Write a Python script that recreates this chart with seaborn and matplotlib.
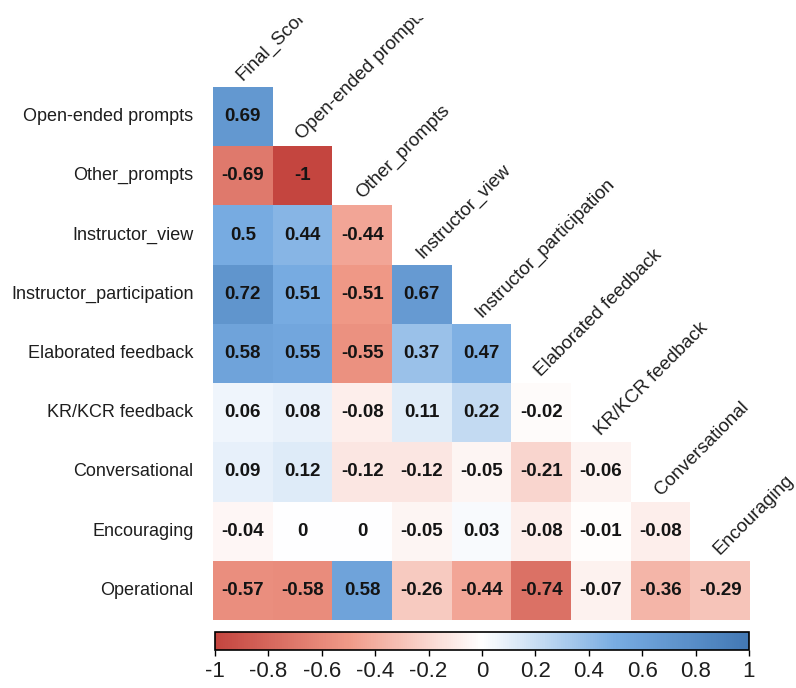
import numpy as np
import pandas as pd
import matplotlib
matplotlib.use("Agg")
import matplotlib.pyplot as plt
import seaborn as sns
from matplotlib.colors import LinearSegmentedColormap
from matplotlib.transforms import Bbox, TransformedBbox

# Variables shown along the rows (lower triangle) and the columns
row_vars = ["Open-ended prompts", "Other_prompts", "Instructor_view",
            "Instructor_participation", "Elaborated feedback", "KR/KCR feedback",
            "Conversational", "Encouraging", "Operational"]
col_vars = ["Final_Score", "Open-ended prompts", "Other_prompts", "Instructor_view",
            "Instructor_participation", "Elaborated feedback", "KR/KCR feedback",
            "Conversational", "Encouraging"]

# Correlation coefficients, one list per row (lower triangle only)
r_open_ended = [0.69]
r_other_prompts = [-0.69, -1]
r_instructor_view = [0.5, 0.44, -0.44]
r_instructor_part = [0.72, 0.51, -0.51, 0.67]
r_elaborated = [0.58, 0.55, -0.55, 0.37, 0.47]
r_kr_kcr = [0.06, 0.08, -0.08, 0.11, 0.22, -0.02]
r_conversational = [0.09, 0.12, -0.12, -0.12, -0.05, -0.21, -0.06]
r_encouraging = [-0.04, 0, 0, -0.05, 0.03, -0.08, -0.01, -0.08]
r_operational = [-0.57, -0.58, 0.58, -0.26, -0.44, -0.74, -0.07, -0.36, -0.29]

cbar_ticks = [-1, -0.8, -0.6, -0.4, -0.2, 0, 0.2, 0.4, 0.6, 0.8, 1]

rows = [r_open_ended, r_other_prompts, r_instructor_view, r_instructor_part,
        r_elaborated, r_kr_kcr, r_conversational, r_encouraging, r_operational]

n = len(row_vars)
mat = np.full((n, len(col_vars)), np.nan)
for i, vals in enumerate(rows):
    mat[i, :len(vals)] = vals
corr = pd.DataFrame(mat, index=row_vars, columns=col_vars)
mask = np.isnan(mat)


def fmt_num(v):
    if np.isnan(v):
        return ""
    s = f"{v:g}"
    return "0" if s in ("-0", "0") else s


annot = np.vectorize(fmt_num)(mat)

cmap = LinearSegmentedColormap.from_list(
    "corr", ["#C4453F", "#F09A88", "#FFFFFF", "#78ACE2", "#4278B4"], N=256)

sns.set_style("white")
plt.rcParams["font.family"] = ["Liberation Sans", "DejaVu Sans"]

fig = plt.figure(figsize=(7.96, 6.88), dpi=100)
ax = fig.add_axes([213 / 796, 1 - 620 / 688, 537 / 796, 533 / 688])
cax = fig.add_axes([215 / 796, 1 - 650 / 688, 534 / 796, 18 / 688])

sns.heatmap(corr, mask=mask, cmap=cmap, vmin=-1, vmax=1,
            annot=annot, fmt="",
            annot_kws={"color": "#141414", "fontsize": 13.5, "fontweight": "bold"},
            cbar_ax=cax, cbar_kws={"orientation": "horizontal", "ticks": cbar_ticks},
            xticklabels=False, yticklabels=row_vars, ax=ax)

ax.tick_params(axis="y", length=0, pad=14, labelsize=13, labelcolor="#1e1e1e")
for lab in ax.get_yticklabels():
    lab.set_rotation(0)
ax.set_xlabel("")
ax.set_ylabel("")

# Diagonal column labels, trimmed at the top margin
clip = TransformedBbox(Bbox([[0, 0], [1, 1 - 18 / 688]]), fig.transFigure)
for j, name in enumerate(col_vars):
    t = ax.text(j + 0.5, j - 0.1, name, rotation=45, rotation_mode="anchor",
                ha="left", va="baseline", fontsize=13.5, color="#1e1e1e")
    t.set_clip_box(clip)
    t.set_clip_on(True)

# Colour bar styling
cbar = ax.collections[0].colorbar
cbar.outline.set_edgecolor("black")
cbar.outline.set_linewidth(1.2)
cax.tick_params(axis="x", direction="out", length=4, width=1, color="black",
                labelsize=16, labelcolor="#1e1e1e", pad=4)
cax.set_xticklabels([f"{v:g}" for v in cbar_ticks])

fig.savefig("out.png", dpi=100, facecolor="white")
